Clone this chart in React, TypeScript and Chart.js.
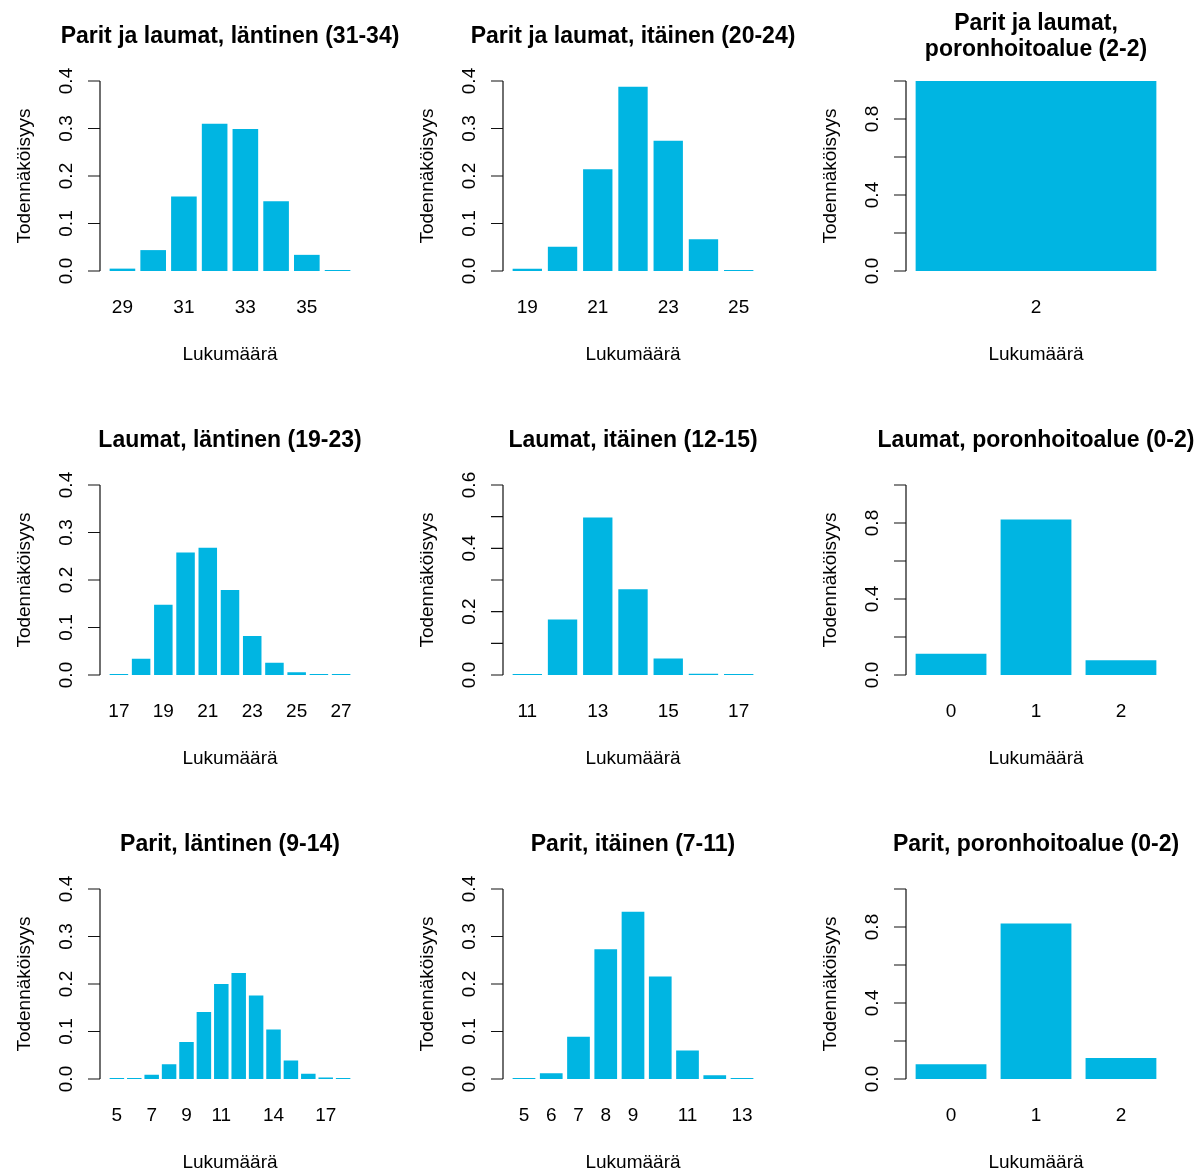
import React, { useEffect, useRef } from "react";
import { Chart, registerables } from "chart.js";

Chart.register(...registerables);

// ---- data: counts (x categories) and probabilities per panel ----

// Parit ja laumat, läntinen (31-34)
const pjlLantinenCounts = ["29", "30", "31", "32", "33", "34", "35", "36"];
const pjlLantinenProb = [0.005, 0.044, 0.157, 0.31, 0.299, 0.147, 0.034, 0.002];
const pjlLantinenXLabels = ["29", "31", "33", "35"];

// Parit ja laumat, itäinen (20-24)
const pjlItainenCounts = ["19", "20", "21", "22", "23", "24", "25"];
const pjlItainenProb = [0.005, 0.051, 0.214, 0.388, 0.274, 0.067, 0.001];
const pjlItainenXLabels = ["19", "21", "23", "25"];

// Parit ja laumat, poronhoitoalue (2-2)
const pjlPoroCounts = ["2"];
const pjlPoroProb = [1.0];
const pjlPoroXLabels = ["2"];

// Laumat, läntinen (19-23)
const laumatLantinenCounts = ["17", "18", "19", "20", "21", "22", "23", "24", "25", "26", "27"];
const laumatLantinenProb = [0.002, 0.034, 0.148, 0.258, 0.268, 0.179, 0.082, 0.026, 0.006, 0.002, 0.001];
const laumatLantinenXLabels = ["17", "19", "21", "23", "25", "27"];

// Laumat, itäinen (12-15)
const laumatItainenCounts = ["11", "12", "13", "14", "15", "16", "17"];
const laumatItainenProb = [0.001, 0.175, 0.497, 0.271, 0.052, 0.004, 0.002];
const laumatItainenXLabels = ["11", "13", "15", "17"];

// Laumat, poronhoitoalue (0-2)
const laumatPoroCounts = ["0", "1", "2"];
const laumatPoroProb = [0.112, 0.819, 0.077];
const laumatPoroXLabels = ["0", "1", "2"];

// Parit, läntinen (9-14)
const paritLantinenCounts = ["5", "6", "7", "8", "9", "10", "11", "12", "13", "14", "15", "16", "17", "18"];
const paritLantinenProb = [0.001, 0.002, 0.009, 0.031, 0.078, 0.141, 0.2, 0.223, 0.176, 0.104, 0.039, 0.011, 0.003, 0.001];
const paritLantinenXLabels = ["5", "7", "9", "11", "14", "17"];

// Parit, itäinen (7-11)
const paritItainenCounts = ["5", "6", "7", "8", "9", "10", "11", "12", "13"];
const paritItainenProb = [0.001, 0.012, 0.089, 0.273, 0.352, 0.216, 0.06, 0.008, 0.001];
const paritItainenXLabels = ["5", "6", "7", "8", "9", "11", "13"];

// Parit, poronhoitoalue (0-2)
const paritPoroCounts = ["0", "1", "2"];
const paritPoroProb = [0.077, 0.818, 0.11];
const paritPoroXLabels = ["0", "1", "2"];

// y-axis tick values and the ones that carry a label
const yTicks04 = [0, 0.1, 0.2, 0.3, 0.4];
const yLabels04 = [0, 0.1, 0.2, 0.3, 0.4];
const yTicks06 = [0, 0.1, 0.2, 0.3, 0.4, 0.5, 0.6];
const yLabels06 = [0, 0.2, 0.4, 0.6];
const yTicks10 = [0, 0.2, 0.4, 0.6, 0.8, 1.0];
const yLabels10 = [0, 0.4, 0.8];

const X_TITLE = "Lukumäärä";
const Y_TITLE = "Todennäköisyys";

// ---- layout ----
const PANEL_W = 403;
const PANEL_H = 404;
const PLOT_LEFT = 100;
const PLOT_W = 260;
const PLOT_TOP = 81;
const PLOT_BOTTOM = 271;
const BAR_COLOR = "#00B5E2";
const FONT = '"Liberation Sans", Arial, Helvetica, sans-serif';

type PanelSpec = {
  title: string[];
  counts: string[];
  probs: number[];
  xLabels: string[];
  yMax: number;
  yTicks: number[];
  yLabels: number[];
};

const panels: PanelSpec[] = [
  { title: ["Parit ja laumat, läntinen (31-34)"], counts: pjlLantinenCounts, probs: pjlLantinenProb, xLabels: pjlLantinenXLabels, yMax: 0.4, yTicks: yTicks04, yLabels: yLabels04 },
  { title: ["Parit ja laumat, itäinen (20-24)"], counts: pjlItainenCounts, probs: pjlItainenProb, xLabels: pjlItainenXLabels, yMax: 0.4, yTicks: yTicks04, yLabels: yLabels04 },
  { title: ["Parit ja laumat,", "poronhoitoalue (2-2)"], counts: pjlPoroCounts, probs: pjlPoroProb, xLabels: pjlPoroXLabels, yMax: 1.0, yTicks: yTicks10, yLabels: yLabels10 },
  { title: ["Laumat, läntinen (19-23)"], counts: laumatLantinenCounts, probs: laumatLantinenProb, xLabels: laumatLantinenXLabels, yMax: 0.4, yTicks: yTicks04, yLabels: yLabels04 },
  { title: ["Laumat, itäinen (12-15)"], counts: laumatItainenCounts, probs: laumatItainenProb, xLabels: laumatItainenXLabels, yMax: 0.6, yTicks: yTicks06, yLabels: yLabels06 },
  { title: ["Laumat, poronhoitoalue (0-2)"], counts: laumatPoroCounts, probs: laumatPoroProb, xLabels: laumatPoroXLabels, yMax: 1.0, yTicks: yTicks10, yLabels: yLabels10 },
  { title: ["Parit, läntinen (9-14)"], counts: paritLantinenCounts, probs: paritLantinenProb, xLabels: paritLantinenXLabels, yMax: 0.4, yTicks: yTicks04, yLabels: yLabels04 },
  { title: ["Parit, itäinen (7-11)"], counts: paritItainenCounts, probs: paritItainenProb, xLabels: paritItainenXLabels, yMax: 0.4, yTicks: yTicks04, yLabels: yLabels04 },
  { title: ["Parit, poronhoitoalue (0-2)"], counts: paritPoroCounts, probs: paritPoroProb, xLabels: paritPoroXLabels, yMax: 1.0, yTicks: yTicks10, yLabels: yLabels10 },
];

// Draws the classic axis (line + outward ticks + rotated labels), category labels and titles.
function framePlugin(spec: PanelSpec) {
  return {
    id: "panelFrame",
    afterDraw(chart: any) {
      const ctx: CanvasRenderingContext2D = chart.ctx;
      const yScale = chart.scales.y;
      const xScale = chart.scales.x;
      ctx.save();
      ctx.fillStyle = "#000";
      ctx.strokeStyle = "#111";
      ctx.lineWidth = 1.2;

      // y axis line spanning first to last tick
      const yFirst = yScale.getPixelForValue(spec.yTicks[0]);
      const yLast = yScale.getPixelForValue(spec.yTicks[spec.yTicks.length - 1]);
      ctx.beginPath();
      ctx.moveTo(PLOT_LEFT, yFirst);
      ctx.lineTo(PLOT_LEFT, yLast);
      for (const t of spec.yTicks) {
        const py = yScale.getPixelForValue(t);
        ctx.moveTo(PLOT_LEFT - 12, py);
        ctx.lineTo(PLOT_LEFT, py);
      }
      ctx.stroke();

      // rotated y tick labels
      ctx.font = `19px ${FONT}`;
      ctx.textAlign = "center";
      ctx.textBaseline = "alphabetic";
      for (const t of spec.yLabels) {
        const py = yScale.getPixelForValue(t);
        ctx.save();
        ctx.translate(71.5, py);
        ctx.rotate(-Math.PI / 2);
        ctx.fillText(t.toFixed(1), 0, 0);
        ctx.restore();
      }

      // category labels under the bars
      for (const lab of spec.xLabels) {
        const idx = spec.counts.indexOf(lab);
        const px = xScale.getPixelForValue(idx);
        ctx.fillText(lab, px, 313);
      }

      const plotMid = PLOT_LEFT + PLOT_W / 2;
      // x title
      ctx.fillText(X_TITLE, plotMid, 360);

      // y title
      ctx.save();
      ctx.translate(29.5, (PLOT_TOP + PLOT_BOTTOM) / 2);
      ctx.rotate(-Math.PI / 2);
      ctx.fillText(Y_TITLE, 0, 0);
      ctx.restore();

      // main title (centred block)
      ctx.font = `bold 23px ${FONT}`;
      const lineGap = 26.8;
      const n = spec.title.length;
      spec.title.forEach((line, i) => {
        const by = 43 + (i - (n - 1) / 2) * lineGap;
        ctx.fillText(line, plotMid, by);
      });
      ctx.restore();
    },
  };
}

function Panel({ spec, left, top }: { spec: PanelSpec; left: number; top: number }) {
  const ref = useRef<HTMLCanvasElement>(null);

  useEffect(() => {
    const canvas = ref.current;
    if (!canvas) return;
    // bar width 1, gap 0.2, range widened by 4% on each side
    const n = spec.counts.length;
    const span = 1.2 * n - 0.2;
    const unit = PLOT_W / (1.08 * span);
    const ext = 0.04 * span;
    const areaLeft = PLOT_LEFT + (ext - 0.1) * unit;
    const areaWidth = 1.2 * n * unit;

    const chart = new Chart(canvas, {
      type: "bar",
      data: {
        labels: spec.counts,
        datasets: [
          {
            data: spec.probs,
            backgroundColor: BAR_COLOR,
            borderWidth: 0,
            barPercentage: 1 / 1.2,
            categoryPercentage: 1,
            minBarLength: 1,
          },
        ],
      },
      options: {
        responsive: false,
        animation: false,
        events: [],
        layout: {
          padding: {
            left: areaLeft,
            right: PANEL_W - areaLeft - areaWidth,
            top: PLOT_TOP,
            bottom: PANEL_H - PLOT_BOTTOM,
          },
        },
        plugins: {
          legend: { display: false },
          tooltip: { enabled: false },
          title: { display: false },
        },
        scales: {
          x: { display: false, offset: true, grid: { display: false } },
          y: { display: false, min: 0, max: spec.yMax, grid: { display: false } },
        },
      },
      plugins: [framePlugin(spec)],
    });
    return () => chart.destroy();
  }, [spec]);

  return (
    <canvas
      ref={ref}
      width={PANEL_W}
      height={PANEL_H}
      style={{ position: "absolute", left, top, width: PANEL_W, height: PANEL_H }}
    />
  );
}

export default function App() {
  return (
    <div
      style={{
        position: "absolute",
        left: 0,
        top: 0,
        width: 1198,
        height: 1171,
        overflow: "hidden",
        background: "#fff",
      }}
    >
      {panels.map((p, i) => (
        <Panel key={i} spec={p} left={(i % 3) * PANEL_W} top={Math.floor(i / 3) * PANEL_H} />
      ))}
    </div>
  );
}
